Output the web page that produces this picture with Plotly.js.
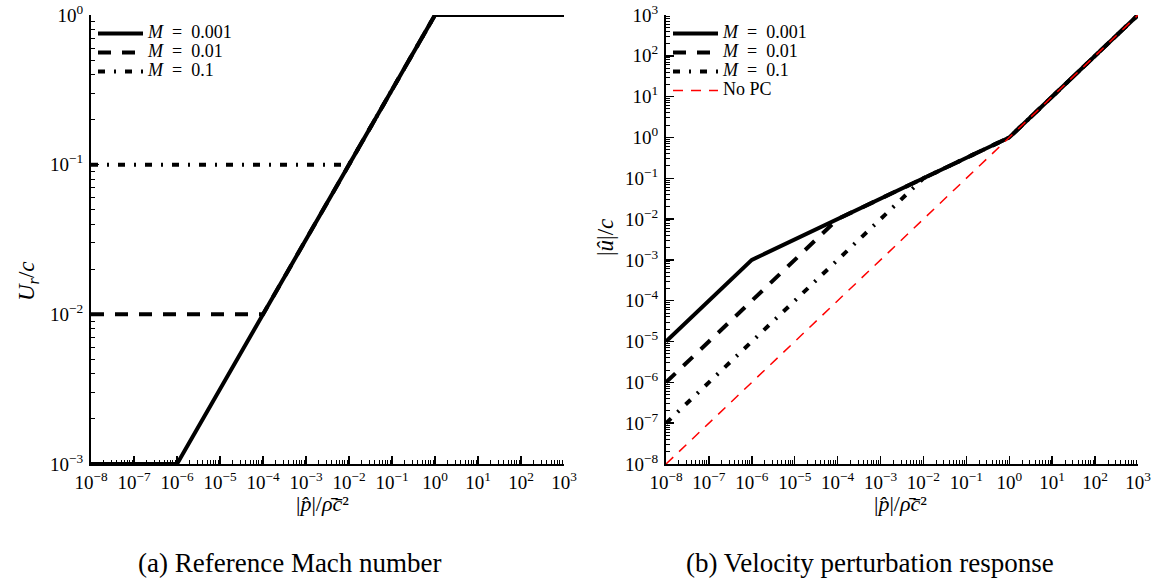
<!DOCTYPE html>
<html>
<head>
<meta charset="utf-8">
<script src="https://cdn.plot.ly/plotly-3.0.1.min.js"></script>
<style>html,body{margin:0;padding:0;background:#fff;}#chart{width:1163px;height:587px;}</style>
</head>
<body>
<div id="chart"></div>
<script>
// ---- data ----
const xBreakM001 = [1e-8, 1e-6, 1, 1e3];
const xBreakM01  = [1e-8, 1e-4, 1, 1e3];
const xBreakM1   = [1e-8, 1e-2, 1, 1e3];
const xNoPC      = [1e-8, 1e3];

// (a) reference Mach number U_r/c
const urM001 = [1e-3, 1e-3, 1, 1];
const urM01  = [1e-2, 1e-2, 1, 1];
const urM1   = [1e-1, 1e-1, 1, 1];

// (b) velocity perturbation |u|/c
const uM001 = [1e-5, 1e-3, 1, 1e3];
const uM01  = [1e-6, 1e-2, 1, 1e3];
const uM1   = [1e-7, 1e-1, 1, 1e3];
const uNoPC = [1e-8, 1e3];

// tick labels (decade exponents)
const xTickExp  = [-8, -7, -6, -5, -4, -3, -2, -1, 0, 1, 2, 3];
const yTickExpA = [-3, -2, -1, 0];
const yTickExpB = [-8, -7, -6, -5, -4, -3, -2, -1, 0, 1, 2, 3];

const seriesNames = ['<i>M</i>\u2002=\u20020.001', '<i>M</i>\u2002=\u20020.01', '<i>M</i>\u2002=\u20020.1', 'No PC'];
const captions = ['(a) Reference Mach number', '(b) Velocity perturbation response'];
const xTitle = '|<i>p̂</i>|/<i>ρ̄c̄</i>²';
const yTitleA = '<i>U<sub>r</sub></i>/<i>c</i>';
const yTitleB = '|<i>û</i>|/<i>c</i>';

const FONT = 'Liberation Serif';
const styles = [
  {color: '#000', width: 4, dash: 'solid'},
  {color: '#000', width: 4, dash: '13px,11px'},
  {color: '#000', width: 4, dash: '7px,9px,2px,9px'},
  {color: '#ff0000', width: 1.5, dash: '10px,8px'}
];

// legend text drawn at 18px inside a 12px legend row so that rows stay compact
function legText(s) { return '<span style="font-size:18px">' + s + '</span>'; }

function tr(x, y, i, xa, ya, leg, rank) {
  return {x: x, y: y, xaxis: xa, yaxis: ya, type: 'scatter', mode: 'lines',
          name: legText(seriesNames[i]), line: styles[i], legend: leg, legendrank: rank};
}

const data = [
  tr(xBreakM1, urM1, 2, 'x', 'y', 'legend', 3),
  tr(xBreakM01, urM01, 1, 'x', 'y', 'legend', 2),
  tr(xBreakM001, urM001, 0, 'x', 'y', 'legend', 1),
  tr(xBreakM1, uM1, 2, 'x2', 'y2', 'legend2', 3),
  tr(xBreakM01, uM01, 1, 'x2', 'y2', 'legend2', 2),
  tr(xBreakM001, uM001, 0, 'x2', 'y2', 'legend2', 1),
  tr(xNoPC, uNoPC, 3, 'x2', 'y2', 'legend2', 4)
];

function tickSpec(exps) {
  return {
    tickmode: 'array',
    tickvals: exps.map(e => Math.pow(10, e)),
    ticktext: exps.map(e => '10<sup>' + (e < 0 ? '\u2212' + (-e) : e) + '</sup>')
  };
}

const W = 1163, H = 587;
const yDom = [1 - 464 / H, 1 - 15 / H];
function axBase(extra) {
  return Object.assign({
    type: 'log', showgrid: false, zeroline: false, showline: true, linecolor: '#000', linewidth: 2,
    ticks: 'inside', ticklen: 8, tickwidth: 1.5, tickcolor: '#000', mirror: false,
    tickfont: {family: FONT, size: 19, color: '#000'},
    minor: {ticks: 'inside', ticklen: 4, tickwidth: 1, tickcolor: '#000', showgrid: false, dtick: 'D1'}
  }, extra);
}

function ann(text, xpx, ypx, size, angle) {
  return {text: text, xref: 'paper', yref: 'paper', x: xpx / W, y: 1 - ypx / H,
          xanchor: 'center', yanchor: 'middle', showarrow: false, textangle: angle || 0,
          font: {family: FONT, size: size, color: '#000'}};
}

const layout = {
  width: W, height: H,
  margin: {l: 0, r: 0, t: 0, b: 0},
  paper_bgcolor: '#fff', plot_bgcolor: '#fff',
  font: {family: FONT, size: 17, color: '#000'},
  showlegend: true,
  xaxis: axBase(Object.assign({domain: [91 / W, 564 / W], range: [-8, 3], anchor: 'y'}, tickSpec(xTickExp))),
  yaxis: axBase(Object.assign({domain: yDom, range: [-3, 0], anchor: 'x', ticklabelstandoff: 2}, tickSpec(yTickExpA))),
  xaxis2: axBase(Object.assign({domain: [666 / W, 1138 / W], range: [-8, 3], anchor: 'y2'}, tickSpec(xTickExp))),
  yaxis2: axBase(Object.assign({domain: yDom, range: [-8, 3], anchor: 'x2', ticklabelstandoff: 2}, tickSpec(yTickExpB))),
  legend: {x: 93 / W, y: 1 - 19 / H, xanchor: 'left', yanchor: 'top', bgcolor: 'rgba(0,0,0,0)',
    font: {family: FONT, size: 12}, tracegroupgap: 0, itemwidth: 45},
  legend2: {x: 668 / W, y: 1 - 19 / H, xanchor: 'left', yanchor: 'top', bgcolor: 'rgba(0,0,0,0)',
    font: {family: FONT, size: 12}, tracegroupgap: 0, itemwidth: 45},
  annotations: [
    ann(xTitle, 322, 503, 22),
    ann(xTitle, 900, 503, 22),
    ann(yTitleA, 28, 281, 23, -90),
    ann(yTitleB, 605, 238, 23, -90),
    ann(captions[0], 290, 563, 27),
    ann(captions[1], 870, 563, 27)
  ]
};

Plotly.newPlot('chart', data, layout, {staticPlot: true, displayModeBar: false});
</script>
</body>
</html>
